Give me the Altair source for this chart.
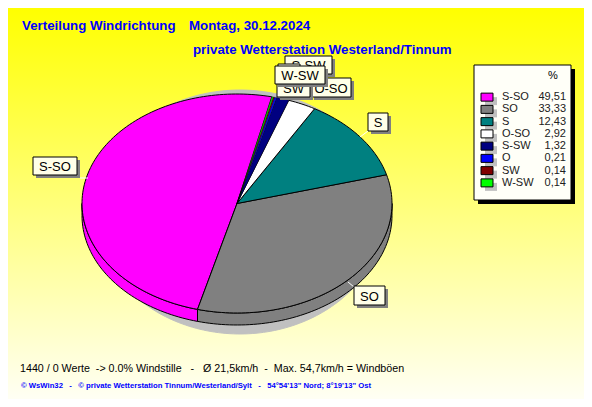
import math
import altair as alt
import pandas as pd

# --- values
names = ["S-SO", "SO", "S", "O-SO", "S-SW", "O", "SW", "W-SW"]
percent = [49.51, 33.33, 12.43, 2.92, 1.32, 0.21, 0.14, 0.14]
percent_text = ["49,51", "33,33", "12,43", "2,92", "1,32", "0,21", "0,14", "0,14"]
colors = ["#FF00FF", "#808080", "#008080", "#FFFFFF", "#000080", "#0000FF", "#800000", "#00FF00"]
title_a = "Verteilung Windrichtung"
title_b = "Montag, 30.12.2024"
title_c = "private Wetterstation Westerland/Tinnum"
NB = "\u00a0"
footer_a = f"1440 / 0 Werte {NB}-> 0.0% Windstille {NB}{NB}-{NB}{NB} Ø 21,5km/h {NB}-{NB} Max. 54,7km/h = Windböen"
footer_b = (f"© WsWin32 {NB}{NB}-{NB}{NB} © private Wetterstation Tinnum/Westerland/Sylt {NB}{NB}-{NB}{NB} "
            "54°54'13\" Nord; 8°19'13\" Ost")

# --- layout (page pixels, page margin 8)
M = 8
W, H = 576, 391
CX, CY, RX, RY = 237, 203.5, 155, 109.5
DEPTH = 12 / RY
START = 77.0
x_scale = alt.Scale(domain=[-1, 1], range=[CX - RX - M, CX + RX - M])
y_scale = alt.Scale(domain=[-1, 1], range=[CY + RY - M, CY - RY - M])
# label boxes: left, top, right, bottom, in drawing order
boxes = {
    "S": (368, 113, 388, 131), "SO": (354, 286, 385, 305), "S-SO": (33, 157, 77, 175),
    "O-SO": (311, 78, 351, 97), "S-SW": (285, 56, 332, 74), "O": (278, 64, 300, 82),
    "SW": (277, 79, 310, 97), "W-SW": (275, 66, 325, 84),
}
leaders = {"S": (368, 131, 360, 137), "SO": (354, 287, 348, 282), "S-SO": (80, 178, 88, 178)}


def vx(v):
    return alt.value(v - M)


def one(**kw):
    return alt.Data(values=[kw or {"a": 1}])


def poly(points, fill, stroke="black", width=1.0):
    df = pd.DataFrame([{"x": a, "y": b, "i": i} for i, (a, b) in enumerate(points)])
    return alt.Chart(df).mark_line(
        interpolate="linear-closed", fill=fill, stroke=stroke, strokeWidth=width,
        strokeJoin="round", clip=False,
    ).encode(
        x=alt.X("x:Q", scale=x_scale, axis=None),
        y=alt.Y("y:Q", scale=y_scale, axis=None),
        order="i:Q",
    )


def arc(a0, a1, dy=0.0):
    n = max(2, int(abs(a1 - a0) / 1.5) + 1)
    return [(math.cos(math.radians(a0 + (a1 - a0) * k / n)),
             math.sin(math.radians(a0 + (a1 - a0) * k / n)) + dy) for k in range(n + 1)]


def box(left, top, right, bottom, fill="#FFFFE8", stroke="black", shadow="#808080", off=3):
    return [
        alt.Chart(one()).mark_rect(fill=shadow).encode(
            x=vx(left + off), x2=vx(right + off), y=vx(top + off), y2=vx(bottom + off)),
        alt.Chart(one()).mark_rect(fill=fill, stroke=stroke, strokeWidth=1).encode(
            x=vx(left), x2=vx(right), y=vx(top), y2=vx(bottom)),
    ]


def label(text, x, y, size=11, color="black", weight="normal", align="left", font="Liberation Sans"):
    return alt.Chart(one(t=text)).mark_text(
        fontSize=size, color=color, fontWeight=weight, align=align, baseline="alphabetic", font=font,
    ).encode(text="t:N", x=vx(x), y=vx(y))


layers = []
grad = alt.Gradient(gradient="linear", x1=0, y1=0, x2=0, y2=1,
                    stops=[alt.GradientStop(color="#FFFF00", offset=0),
                           alt.GradientStop(color="#FFFFF4", offset=1)])
layers.append(alt.Chart(one()).mark_rect(fill=grad).encode(
    x=alt.value(0), x2=alt.value(W), y=alt.value(0), y2=alt.value(H)))

for t, x, y in [(title_a, 22, 30), (title_b, 189, 30), (title_c, 193, 54)]:
    layers.append(label(t, x, y, size=13.3, color="#0000FF", weight="bold"))

# drop shadow of the pie
sx, sy = 3 / RX, (CY - 212) / RY
layers.append(poly([(a * 0.935 + sx, b * 1.114 + sy) for a, b in arc(0, 358.5)],
                   "#C0C0C0", stroke="#C0C0C0"))

# wedge angles (counter-clockwise from the top)
total = sum(percent)
spans = []
a = START
for p in percent:
    b = a + p / total * 360
    spans.append((a, b))
    a = b

# side wall: only the part of each wedge on the lower half
for (a0, a1), col in zip(spans, colors):
    for lo, hi in [(180, 360), (540, 720)]:
        u, v = max(a0, lo), min(a1, hi)
        if v > u:
            layers.append(poly(arc(u, v) + arc(v, u, -DEPTH), col))

# top surface; the narrow wedges take a hairline so their colour still shows
for p, (a0, a1), col in zip(percent, spans, colors):
    layers.append(poly([(0, 0)] + arc(a0, a1), col, width=1.0 if p > 2 else 0.35))

# leader lines
for k, (x0, y0, x1, y1) in leaders.items():
    layers.append(alt.Chart(one()).mark_rule(color="white", strokeWidth=1).encode(
        x=vx(x0), x2=vx(x1), y=vx(y0), y2=vx(y1)))

# callouts
for n in ["S", "SO", "S-SO", "O-SO", "S-SW", "O", "SW", "W-SW"]:
    l, t, r, bt = boxes[n]
    layers += box(l, t, r, bt)
    layers.append(label(n, (l + r) / 2, bt - 4, size=13, align="center"))

# legend panel
layers += box(474, 65, 571, 200, fill="#FFFFF8", off=4, shadow="black")
layers.append(label("%", 553, 79, align="center"))
leg = pd.DataFrame({"name": names, "color": colors, "value": percent_text})
leg_y = alt.Y("name:N", sort=None, axis=None,
              scale=alt.Scale(type="point", domain=names, range=[91 - M, 189 - M]))
layers.append(alt.Chart(leg).mark_rect(width=12, height=8, fill="#C0C0C0", xOffset=4, yOffset=4).encode(
    x=vx(487), y=leg_y))
layers.append(alt.Chart(leg).mark_rect(width=12, height=8, stroke="black", strokeWidth=1).encode(
    x=vx(487), y=leg_y, fill=alt.Fill("color:N", scale=None, legend=None)))
layers.append(alt.Chart(leg).mark_text(fontSize=11, font="Liberation Sans", align="left", color="#202020",
                                       baseline="middle").encode(x=vx(502), y=leg_y, text="name:N"))
layers.append(alt.Chart(leg).mark_text(fontSize=11, font="Liberation Sans", align="right", color="#202020",
                                       baseline="middle").encode(x=vx(566), y=leg_y, text="value:N"))

layers.append(label(footer_a, 20, 372, size=10.7))
layers.append(label(footer_b, 21, 388, size=7.7, color="#0000FF", weight="bold"))

chart = alt.layer(*layers).resolve_scale(x="independent", y="independent").properties(
    width=W, height=H, padding=0, autosize=alt.AutoSizeParams(type="none"),
).configure_view(stroke=None)

chart.save("out.html", embed_options={"renderer": "svg", "actions": False})
